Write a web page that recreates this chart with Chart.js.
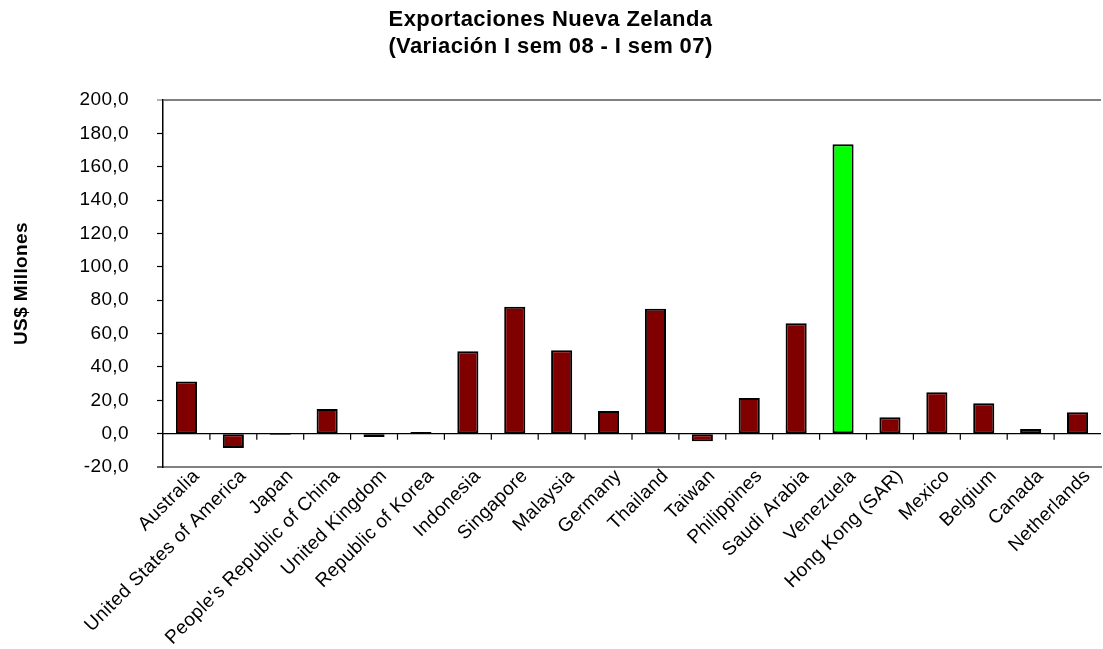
<!DOCTYPE html>
<html>
<head>
<meta charset="utf-8">
<script src="https://cdn.jsdelivr.net/npm/chart.js@4.4.1/dist/chart.umd.min.js"></script>
<style>
  html, body { margin: 0; padding: 0; background: #fff; }
  #wrap { width: 1103px; height: 649px; position: relative; }
</style>
</head>
<body>
<div id="wrap"><canvas id="c" width="1103" height="649"></canvas></div>
<script>
const categories = [
  "Australia", "United States of America", "Japan", "People's Republic of China",
  "United Kingdom", "Republic of Korea", "Indonesia", "Singapore", "Malaysia",
  "Germany", "Thailand", "Taiwan", "Philippines", "Saudi Arabia", "Venezuela",
  "Hong Kong (SAR)", "Mexico", "Belgium", "Canada", "Netherlands"
];
const values = [
  31.3, -8.6, -0.8, 14.8, -2.0, 1.0, 49.4, 76.1, 50.0, 13.6,
  74.9, -4.6, 21.4, 66.2, 173.5, 9.8, 24.8, 18.2, 2.8, 12.8
];
const highlighted = ["Venezuela"];
const yMin = -20, yMax = 200, yStep = 20;
const titleLines = ["Exportaciones Nueva Zelanda", "(Variación I sem 08 - I sem 07)"];
const yTitle = "US$ Millones";

const FONT = "'Liberation Sans', Arial, Helvetica, sans-serif";
const GRAY = '#808080';
const LS = '0.4px';

const spacing = {
  id: 'spacing',
  beforeInit(chart) { chart.ctx.letterSpacing = LS; },
  beforeLayout(chart) { chart.ctx.letterSpacing = LS; },
  beforeDraw(chart) { chart.ctx.letterSpacing = LS; }
};

const zeroTicks = {
  id: 'zeroTicks',
  afterDatasetsDraw(chart) {
    const x = chart.scales.x, y = chart.scales.y, ctx = chart.ctx;
    const y0 = y.getPixelForValue(0);
    ctx.save();
    ctx.strokeStyle = '#000';
    ctx.lineWidth = 1.2;
    ctx.beginPath();
    ctx.moveTo(chart.chartArea.left, y0);
    ctx.lineTo(chart.chartArea.right, y0);
    for (let i = 1; i < categories.length; i++) {
      const xb = (x.getPixelForValue(i - 1) + x.getPixelForValue(i)) / 2;
      ctx.moveTo(xb, y0);
      ctx.lineTo(xb, y0 + 6);
    }
    ctx.stroke();
    ctx.restore();
  }
};

new Chart(document.getElementById('c'), {
  type: 'bar',
  data: {
    labels: categories,
    datasets: [{
      data: values,
      backgroundColor: categories.map(c => highlighted.includes(c) ? '#00FF00' : '#800000'),
      borderColor: '#000',
      borderWidth: 2,
      borderSkipped: false,
      barPercentage: 0.45,
      categoryPercentage: 1.0
    }]
  },
  options: {
    responsive: false,
    animation: false,
    devicePixelRatio: 1,
    layout: { padding: { left: 0, right: 2, top: 0, bottom: 0 } },
    plugins: {
      legend: { display: false },
      tooltip: { enabled: false },
      title: {
        display: true,
        text: titleLines,
        color: '#000',
        font: { family: FONT, size: 22, weight: 'bold', lineHeight: 1.25 },
        padding: { top: 6, bottom: 39 }
      }
    },
    scales: {
      x: {
        offset: true,
        grid: { display: false, drawTicks: false, tickLength: 0 },
        border: { display: true, color: GRAY, width: 2 },
        ticks: {
          autoSkip: false, minRotation: 45, maxRotation: 45,
          color: '#000', padding: -2, labelOffset: 10,
          font: { family: FONT, size: 19 }
        },
        afterFit(scale) { scale.height = 182; }
      },
      y: {
        min: yMin, max: yMax,
        ticks: {
          stepSize: yStep,
          color: '#000',
          padding: 28,
          font: { family: FONT, size: 19 },
          callback: v => v.toFixed(1).replace('.', ',')
        },
        grid: {
          drawOnChartArea: true,
          tickLength: 6,
          color: c => (c.tick && (c.tick.value === yMax || c.tick.value === yMin)) ? GRAY : 'rgba(0,0,0,0)',
          lineWidth: c => (c.tick && (c.tick.value === yMax || c.tick.value === yMin)) ? 2 : 1,
          tickColor: c => (c.tick && c.tick.value === yMax) ? GRAY : '#000',
          tickWidth: 1.2
        },
        border: { display: true, color: '#000', width: 1.5 },
        title: {
          display: true,
          text: yTitle,
          color: '#000',
          font: { family: FONT, size: 19, weight: 'bold', lineHeight: 1.2 },
          padding: { top: 10, bottom: 0 }
        },
        afterFit(scale) { scale.width = 163; }
      }
    }
  },
  plugins: [spacing, zeroTicks]
});
</script>
</body>
</html>
